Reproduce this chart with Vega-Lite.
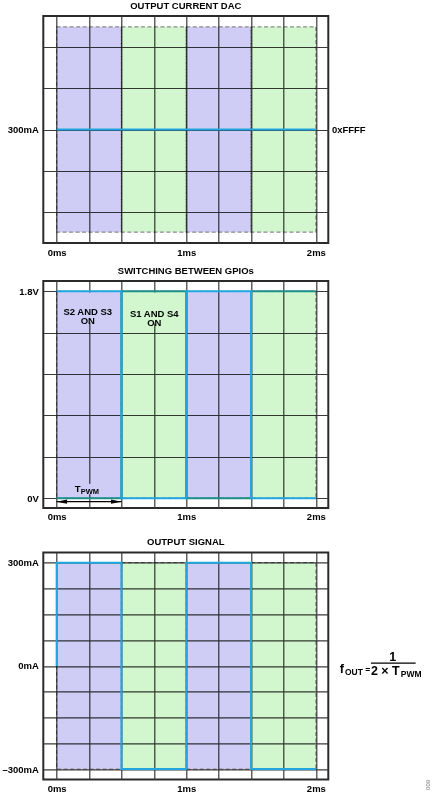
{
  "$schema": "https://vega.github.io/schema/vega-lite/v6.json",
  "padding": {"left": 0.3, "top": 0, "right": 0, "bottom": 0},
  "datasets": {
    "dacRects": [
      {"x": 0, "x2": 0.5, "y": 175, "y2": 425, "phase": "S2 AND S3 ON"},
      {"x": 0.5, "x2": 1, "y": 175, "y2": 425, "phase": "S1 AND S4 ON"},
      {"x": 1, "x2": 1.5, "y": 175, "y2": 425, "phase": "S2 AND S3 ON"},
      {"x": 1.5, "x2": 2, "y": 175, "y2": 425, "phase": "S1 AND S4 ON"}
    ],
    "dacLevel": [{"x": 0, "y": 300}, {"x": 2, "y": 300}],
    "dacCode": [{"x": 2.124, "y": 300, "label": "0xFFFF"}],
    "gpioRects": [
      {"x": 0, "x2": 0.5, "y": 0, "y2": 1.8, "phase": "S2 AND S3 ON"},
      {"x": 0.5, "x2": 1, "y": 0, "y2": 1.8, "phase": "S1 AND S4 ON"},
      {"x": 1, "x2": 1.5, "y": 0, "y2": 1.8, "phase": "S2 AND S3 ON"},
      {"x": 1.5, "x2": 2, "y": 0, "y2": 1.8, "phase": "S1 AND S4 ON"}
    ],
    "gpioLabelBoxes": [
      {"x": 0.08, "x2": 0.4, "y": 1.53, "y2": 1.79, "phase": "S2 AND S3 ON"},
      {"x": 0.59, "x2": 0.92, "y": 1.52, "y2": 1.79, "phase": "S1 AND S4 ON"},
      {"x": 0.13, "x2": 0.37, "y": 0.035, "y2": 0.125, "phase": "S2 AND S3 ON"}
    ],
    "gpioS1S4": [
      {"step": 0, "x": 0, "y": 0}, {"step": 1, "x": 0.5, "y": 0},
      {"step": 2, "x": 0.5, "y": 1.8}, {"step": 3, "x": 1, "y": 1.8},
      {"step": 4, "x": 1, "y": 0}, {"step": 5, "x": 1.5, "y": 0},
      {"step": 6, "x": 1.5, "y": 1.8}, {"step": 7, "x": 2, "y": 1.8}
    ],
    "gpioS2S3": [
      {"step": 0, "x": 0, "y": 1.8}, {"step": 1, "x": 0.5, "y": 1.8},
      {"step": 2, "x": 0.5, "y": 0}, {"step": 3, "x": 1, "y": 0},
      {"step": 4, "x": 1, "y": 1.8}, {"step": 5, "x": 1.5, "y": 1.8},
      {"step": 6, "x": 1.5, "y": 0}, {"step": 7, "x": 2, "y": 0}
    ],
    "gpioLabels": [
      {"x": 0.24, "y": 1.62, "label": "S2 AND S3\nON"},
      {"x": 0.753, "y": 1.606, "label": "S1 AND S4\nON"}
    ],
    "tpwmMain": [{"x": 0.184, "y": 0.082, "label": "T"}],
    "tpwmSub": [{"x": 0.186, "y": 0.058, "label": "PWM"}],
    "tpwmSpan": [{"x": 0, "x2": 0.5, "y": -0.03}],
    "tpwmHeads": [
      {"x": 0.04, "y": -0.03, "end": "left"},
      {"x": 0.46, "y": -0.03, "end": "right"}
    ],
    "outRects": [
      {"x": 0, "x2": 0.5, "y": -300, "y2": 300, "phase": "S2 AND S3 ON"},
      {"x": 0.5, "x2": 1, "y": -300, "y2": 300, "phase": "S1 AND S4 ON"},
      {"x": 1, "x2": 1.5, "y": -300, "y2": 300, "phase": "S2 AND S3 ON"},
      {"x": 1.5, "x2": 2, "y": -300, "y2": 300, "phase": "S1 AND S4 ON"}
    ],
    "outSignal": [
      {"step": 0, "x": 0, "y": 0}, {"step": 1, "x": 0, "y": 300},
      {"step": 2, "x": 0.5, "y": 300}, {"step": 3, "x": 0.5, "y": -300},
      {"step": 4, "x": 1, "y": -300}, {"step": 5, "x": 1, "y": 300},
      {"step": 6, "x": 1.5, "y": 300}, {"step": 7, "x": 1.5, "y": -300},
      {"step": 8, "x": 2, "y": -300}
    ],
    "formulaMain": [
      {"x": 2.201, "y": -9.6, "label": "f"},
      {"x": 2.593, "y": 25.3, "label": "1"}
    ],
    "formulaDenom": [{"x": 2.425, "y": -15.4, "label": "2 × T"}],
    "formulaSub": [
      {"x": 2.225, "y": -18.3, "label": "OUT"},
      {"x": 2.381, "y": -12.5, "label": "="},
      {"x": 2.655, "y": -22.6, "label": "PWM"}
    ],
    "formulaBar": [{"x": 2.425, "x2": 2.77, "y": 7.8}],
    "figNumber": [{"x": 2.865, "y": -346, "label": "009"}]
  },
  "spacing": 7,
  "vconcat": [
    {
      "width": 285,
      "height": 227,
      "title": {"text": "OUTPUT CURRENT DAC"},
      "encoding": {
        "x": {"field": "x", "type": "quantitative", "title": null,
          "scale": {"domain": [-0.103, 2.096], "nice": false, "zero": false},
          "axis": {"values": [0, 0.25, 0.5, 0.75, 1, 1.25, 1.5, 1.75, 2], "labelExpr": "datum.value % 1 == 0 ? datum.value + 'ms' : ''"}},
        "y": {"field": "y", "type": "quantitative", "title": null,
          "scale": {"domain": [161.8, 438.2], "nice": false, "zero": false},
          "axis": {"values": [200, 250, 300, 350, 400], "labelExpr": "datum.value == 300 ? '300mA' : ''"}}
      },
      "layer": [
        {"data": {"name": "dacRects"},
          "mark": {"type": "rect", "blend": "multiply", "stroke": "#8c8c8c", "strokeWidth": 1.2, "strokeDash": [4, 2.5]},
          "encoding": {"x2": {"field": "x2"}, "y2": {"field": "y2"},
            "color": {"field": "phase", "type": "nominal", "legend": null,
              "scale": {"domain": ["S2 AND S3 ON", "S1 AND S4 ON"], "range": ["#cfcdf6", "#d2f7ce"]}}}},
        {"data": {"name": "dacLevel"},
          "mark": {"type": "line", "color": "#22a6e0", "strokeWidth": 2},
          "encoding": {"order": {"field": "x"}}},
        {"data": {"name": "dacCode"},
          "mark": {"type": "text", "align": "left", "baseline": "middle"},
          "encoding": {"text": {"field": "label"}}}
      ]
    },
    {
      "spacing": 13.4,
      "vconcat": [
        {
          "width": 285,
          "height": 227,
          "title": {"text": "SWITCHING BETWEEN GPIOs"},
          "encoding": {
            "x": {"field": "x", "type": "quantitative", "title": null,
              "scale": {"domain": [-0.103, 2.096], "nice": false, "zero": false},
              "axis": {"values": [0, 0.25, 0.5, 0.75, 1, 1.25, 1.5, 1.75, 2], "labelExpr": "datum.value % 1 == 0 ? datum.value + 'ms' : ''"}},
            "y": {"field": "y", "type": "quantitative", "title": null,
              "scale": {"domain": [-0.085, 1.889], "nice": false, "zero": false},
              "axis": {"values": [0, 0.36, 0.72, 1.08, 1.44, 1.8], "labelExpr": "datum.value == 1.8 ? '1.8V' : datum.value == 0 ? '0V' : ''"}}
          },
          "layer": [
            {"data": {"name": "gpioRects"},
              "mark": {"type": "rect", "blend": "multiply", "stroke": "#8c8c8c", "strokeWidth": 1.2, "strokeDash": [4, 2.5]},
              "encoding": {"x2": {"field": "x2"}, "y2": {"field": "y2"},
                "color": {"field": "phase", "type": "nominal", "legend": null,
                  "scale": {"domain": ["S2 AND S3 ON", "S1 AND S4 ON"], "range": ["#cfcdf6", "#d2f7ce"]}}}},
            {"data": {"name": "gpioLabelBoxes"},
              "mark": {"type": "rect"},
              "encoding": {"x2": {"field": "x2"}, "y2": {"field": "y2"},
                "color": {"field": "phase", "type": "nominal", "legend": null,
                  "scale": {"domain": ["S2 AND S3 ON", "S1 AND S4 ON"], "range": ["#cfcdf6", "#d2f7ce"]}}}},
            {"data": {"name": "gpioLabels"},
              "mark": {"type": "text", "align": "center", "baseline": "middle", "lineBreak": "\n", "lineHeight": 9.5},
              "encoding": {"text": {"field": "label"}}},
            {"data": {"name": "tpwmMain"},
              "mark": {"type": "text", "align": "right", "baseline": "middle"},
              "encoding": {"text": {"field": "label"}}},
            {"data": {"name": "tpwmSub"},
              "mark": {"type": "text", "align": "left", "baseline": "middle", "fontSize": 7.5},
              "encoding": {"text": {"field": "label"}}},
            {"data": {"name": "tpwmSpan"},
              "mark": {"type": "rule", "color": "#000", "strokeWidth": 1.3},
              "encoding": {"x2": {"field": "x2"}}},
            {"data": {"name": "tpwmHeads"},
              "mark": {"type": "point", "filled": true, "color": "#000", "opacity": 1, "size": 110},
              "encoding": {"shape": {"field": "end", "type": "nominal", "legend": null,
                "scale": {"domain": ["left", "right"], "range": ["M-1,0L1,-0.4L1,0.4Z", "M1,0L-1,-0.4L-1,0.4Z"]}}}},
            {"data": {"name": "gpioS1S4"},
              "mark": {"type": "line", "color": "#1b8f8a", "strokeWidth": 2},
              "encoding": {"order": {"field": "step"}}},
            {"data": {"name": "gpioS2S3"},
              "mark": {"type": "line", "color": "#22a6e0", "strokeWidth": 2},
              "encoding": {"order": {"field": "step"}}}
          ]
        },
        {
          "width": 285,
          "height": 227,
          "title": {"text": "OUTPUT SIGNAL"},
          "encoding": {
            "x": {"field": "x", "type": "quantitative", "title": null,
              "scale": {"domain": [-0.103, 2.096], "nice": false, "zero": false},
              "axis": {"values": [0, 0.25, 0.5, 0.75, 1, 1.25, 1.5, 1.75, 2], "labelExpr": "datum.value % 1 == 0 ? datum.value + 'ms' : ''"}},
            "y": {"field": "y", "type": "quantitative", "title": null,
              "scale": {"domain": [-330, 330], "nice": false, "zero": false},
              "axis": {"values": [-300, -225, -150, -75, 0, 75, 150, 225, 300], "labelExpr": "datum.value == 300 ? '300mA' : datum.value == 0 ? '0mA' : datum.value == -300 ? '–300mA' : ''"}}
          },
          "layer": [
            {"data": {"name": "outRects"},
              "mark": {"type": "rect", "blend": "multiply", "stroke": "#8c8c8c", "strokeWidth": 1.2, "strokeDash": [4, 2.5]},
              "encoding": {"x2": {"field": "x2"}, "y2": {"field": "y2"},
                "color": {"field": "phase", "type": "nominal", "legend": null,
                  "scale": {"domain": ["S2 AND S3 ON", "S1 AND S4 ON"], "range": ["#cfcdf6", "#d2f7ce"]}}}},
            {"data": {"name": "outSignal"},
              "mark": {"type": "line", "color": "#22a6e0", "strokeWidth": 2},
              "encoding": {"order": {"field": "step"}}},
            {"data": {"name": "formulaMain"},
              "mark": {"type": "text", "align": "center", "baseline": "middle", "fontSize": 12.5},
              "encoding": {"text": {"field": "label"}}},
            {"data": {"name": "formulaDenom"},
              "mark": {"type": "text", "align": "left", "baseline": "middle", "fontSize": 12.5},
              "encoding": {"text": {"field": "label"}}},
            {"data": {"name": "formulaSub"},
              "mark": {"type": "text", "align": "left", "baseline": "middle", "fontSize": 8.5},
              "encoding": {"text": {"field": "label"}}},
            {"data": {"name": "formulaBar"},
              "mark": {"type": "rule", "color": "#000", "strokeWidth": 1.2},
              "encoding": {"x2": {"field": "x2"}}},
            {"data": {"name": "figNumber"},
              "mark": {"type": "text", "align": "center", "baseline": "middle", "angle": 270, "fontSize": 6, "fontWeight": "normal", "color": "#777"},
              "encoding": {"text": {"field": "label"}}}
          ]
        }
      ]
    }
  ],
  "config": {
    "font": "Liberation Sans",
    "view": {"stroke": "#2b2b2b", "strokeWidth": 2},
    "axis": {
      "domain": false, "ticks": false, "grid": true,
      "gridColor": "#3a3a3a", "gridWidth": 1.2, "gridOpacity": 1,
      "labelFont": "Liberation Sans", "labelFontSize": 9.5, "labelFontWeight": "bold",
      "labelColor": "#000", "labelOverlap": false, "labelFlush": false
    },
    "axisX": {"labelPadding": 4},
    "axisY": {"labelPadding": 5},
    "title": {
      "font": "Liberation Sans", "fontSize": 9.5, "fontWeight": "bold", "color": "#000",
      "anchor": "middle", "frame": "group", "baseline": "alphabetic", "offset": 5.5
    },
    "text": {"font": "Liberation Sans", "fontWeight": "bold", "fontSize": 9.5, "color": "#000"}
  }
}
